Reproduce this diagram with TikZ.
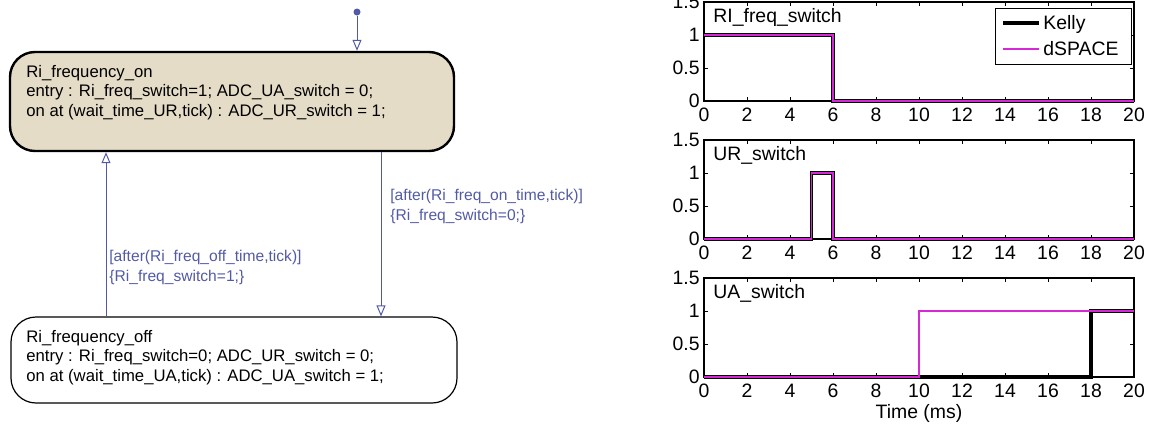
\documentclass[tikz,border=0pt]{standalone}
\usepackage{fontspec}
\setmainfont{Liberation Sans}
\definecolor{stateFill}{RGB}{229,220,199}
\definecolor{transBlue}{RGB}{82,90,166}
\definecolor{dspace}{RGB}{214,40,214}
\usetikzlibrary{arrows.meta, positioning}

\begin{document}
\begin{tikzpicture}[x=0.5pt, y=-0.5pt,
    stbox/.style={draw, rounded corners=12.5pt, inner sep=0pt},
    sttext/.style={font=\fontsize{8.35}{9.75}\selectfont, align=left, inner sep=0pt, anchor=west},
    trans/.style={draw=transBlue, line width=0.5pt, -{Triangle[open, length=5.5pt, width=4.5pt]}},
    translbl/.style={font=\fontsize{7.8}{10}\selectfont, text=transBlue, align=left, inner sep=0pt, anchor=west},
    inplot/.style={shift={(704,#1)}, x=10.75pt, y=33pt},
    axisbox/.style={line width=0.6pt},
    ticklbl/.style={font=\fontsize{9.7}{11}\selectfont, inner sep=0pt},
    kelly/.style={line width=1.7pt},
    dsp/.style={draw=dspace, line width=0.6pt}]
  \useasboundingbox (0,0) rectangle (1152,425);

  % Stateflow chart: the two states
  \node[stbox, fill=stateFill, line width=1.2pt, minimum width=222pt, minimum height=49.5pt] (on) at (232,101.5) {};
  \node[sttext] (ontxt) at (26,92.5)
    {Ri\_frequency\_on\\entry : Ri\_freq\_switch=1; ADC\_UA\_switch = 0;\\on at (wait\_time\_UR,tick) : ADC\_UR\_switch = 1;};
  \node[stbox, line width=0.6pt, minimum width=223pt, minimum height=43pt] (off) at (234,360) {};
  \node[sttext] (offtxt) at (26,357.5)
    {Ri\_frequency\_off\\entry : Ri\_freq\_switch=0; ADC\_UR\_switch = 0;\\on at (wait\_time\_UA,tick) : ADC\_UA\_switch = 1;};

  % Default transition
  \node[circle, fill=transBlue, inner sep=0pt, minimum size=3.5pt] (init) at (357,12) {};
  \draw[trans] (init) -- (init |- on.north);

  % Transitions between the states
  \coordinate (rx) at (381,0);
  \coordinate (lx) at (106,0);
  \draw[trans] (on.south -| rx) -- (off.north -| rx);
  \draw[trans] (off.north -| lx) -- (on.south -| lx);
  \node[translbl] (tooff) at (390,206) {[after(Ri\_freq\_on\_time,tick)]\\\{Ri\_freq\_switch=0;\}};
  \node[translbl] (toon) at (109,267) {[after(Ri\_freq\_off\_time,tick)]\\\{Ri\_freq\_switch=1;\}};

  % Axes of the three signal plots
  \foreach \yo/\ttl/\i in {101/RI\_freq\_switch/1, 239/UR\_switch/2, 377/UA\_switch/3} {
    \begin{scope}[inplot=\yo]
      \draw[axisbox] (0,0) rectangle (20,1.5);
      \foreach \t in {0,2,...,20} {
        \draw[line width=0.5pt] (\t,0) -- ++(0,2pt) (\t,1.5) -- ++(0,-2pt);
        \node[ticklbl, below=3.5pt] (xl\i-\t) at (\t,0) {\t};
      }
      \foreach \v [count=\k] in {0,0.5,1,1.5} {
        \draw[line width=0.5pt] (0,\v) -- ++(2pt,0) (20,\v) -- ++(-2pt,0);
        \node[ticklbl, left=2pt] (yl\i-\k) at (0,\v) {\v};
      }
      \node[ticklbl, anchor=base west] (ttl\i) at (0.42,1.19) {\ttl};
    \end{scope}
  }

  % Signals
  \begin{scope}[inplot=101]
    \draw[kelly] (0,1) -- (6,1) -- (6,0) -- (20,0);
    \draw[dsp] (0,1) -- (6,1) -- (6,0) -- (20,0);
  \end{scope}
  \begin{scope}[inplot=239]
    \draw[kelly] (0,0) -- (5,0) -- (5,1) -- (6,1) -- (6,0) -- (20,0);
    \draw[dsp] (0,0) -- (5,0) -- (5,1) -- (6,1) -- (6,0) -- (20,0);
  \end{scope}
  \begin{scope}[inplot=377]
    \draw[kelly] (0,0) -- (18,0) -- (18,1) -- (20,1);
    \draw[dsp] (0,0) -- (10,0) -- (10,1) -- (20,1);
  \end{scope}

  % Legend
  \node[draw, fill=white, line width=0.5pt, minimum width=68pt, minimum height=28pt] (legend) at (1063,36) {};
  \draw[kelly] (1003,23) -- (1039,23);
  \node[ticklbl, anchor=base west] (kellylbl) at (1043,29.5) {Kelly};
  \draw[dsp] (1003,49) -- (1039,49);
  \node[ticklbl, anchor=base west] (dsplbl) at (1043,55) {dSPACE};

  \node[ticklbl] (xlabel) at (919,413) {Time (ms)};
\end{tikzpicture}
\end{document}
